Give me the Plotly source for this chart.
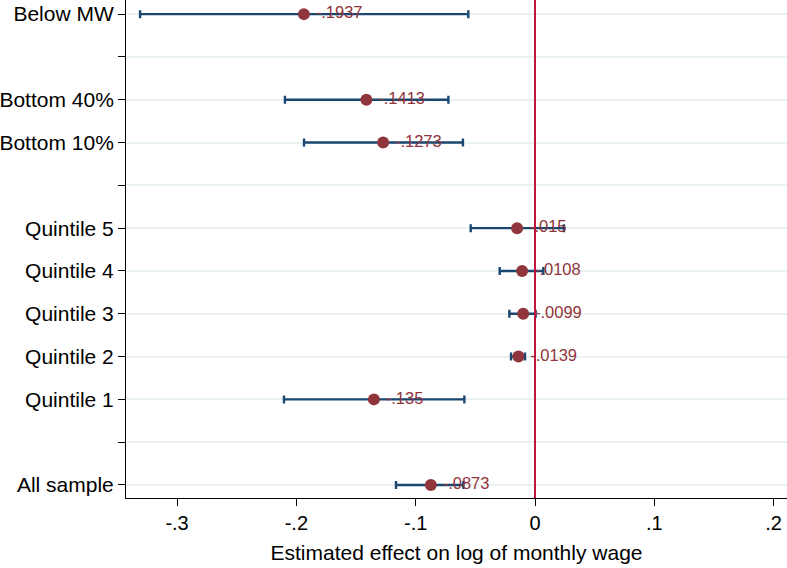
import plotly.graph_objects as go

# Order from bottom to top; blank strings are spacer rows
category_order = ["All sample", " ", "Quintile 1", "Quintile 2", "Quintile 3",
                  "Quintile 4", "Quintile 5", "  ", "Bottom 10%", "Bottom 40%",
                  "   ", "Below MW"]

groups = ["Below MW", "Bottom 40%", "Bottom 10%", "Quintile 5", "Quintile 4",
          "Quintile 3", "Quintile 2", "Quintile 1", "All sample"]
estimates = [-0.1937, -0.1413, -0.1273, -0.015, -0.0108, -0.0099, -0.0139, -0.135, -0.0873]
ci_low = [-0.331, -0.2096, -0.1936, -0.0539, -0.0296, -0.0215, -0.0201, -0.2104, -0.1165]
ci_high = [-0.0559, -0.0726, -0.0604, 0.0243, 0.0070, 0.0005, -0.0084, -0.0592, -0.060]
labels = ["-.1937", "-.1413", "-.1273", "-.015", "-.0108", "-.0099", "-.0139", "-.135", "-.0873"]

x_tickvals = [-0.3, -0.2, -0.1, 0, 0.1, 0.2]
x_ticktext = ["-.3", "-.2", "-.1", "0", ".1", ".2"]

plus = [h - e for h, e in zip(ci_high, estimates)]
minus = [e - l for e, l in zip(estimates, ci_low)]

NAVY = "#1a476f"
MAROON = "#90353b"
FONT = "Liberation Sans, Arial, sans-serif"

fig = go.Figure()
fig.add_trace(go.Scatter(
    x=estimates, y=groups, mode="markers+text",
    marker=dict(color=MAROON, size=12),
    error_x=dict(type="data", array=plus, arrayminus=minus, symmetric=False,
                 color=NAVY, thickness=2.4, width=4),
    text=labels, texttemplate="\u2009%{text}", textposition="middle right",
    textfont=dict(family=FONT, size=16.5, color=MAROON),
    cliponaxis=False, showlegend=False, hoverinfo="skip",
))

fig.add_shape(type="line", xref="x", yref="paper", x0=0, x1=0, y0=0, y1=1,
              line=dict(color="#c0143c", width=2), layer="above")

fig.update_layout(
    width=787, height=568,
    margin=dict(l=126, r=0, t=0, b=70, autoexpand=False),
    paper_bgcolor="white", plot_bgcolor="white",
    font=dict(family=FONT, size=21, color="black"),
    xaxis=dict(
        range=[-0.3428, 0.2112], tickvals=x_tickvals, ticktext=x_ticktext,
        showgrid=False, zeroline=False, showline=True, linecolor="black", linewidth=1,
        ticks="outside", ticklen=7, tickcolor="black", tickwidth=1,
        tickfont=dict(family=FONT, size=20), automargin=False,
        title=dict(text="Estimated effect on log of monthly wage",
                   font=dict(family=FONT, size=21), standoff=12),
    ),
    yaxis=dict(
        type="category", categoryorder="array", categoryarray=category_order,
        range=[-0.304, 11.33], automargin=False,
        showgrid=True, gridcolor="#eaf2f3", gridwidth=2,
        zeroline=False, showline=True, linecolor="black", linewidth=1,
        ticks="outside", ticklen=7, tickcolor="black", tickwidth=1,
        tickfont=dict(family=FONT, size=21),
    ),
)

fig.write_html("out.html", config={"displayModeBar": False},
               post_script="document.body.style.margin='0';")
